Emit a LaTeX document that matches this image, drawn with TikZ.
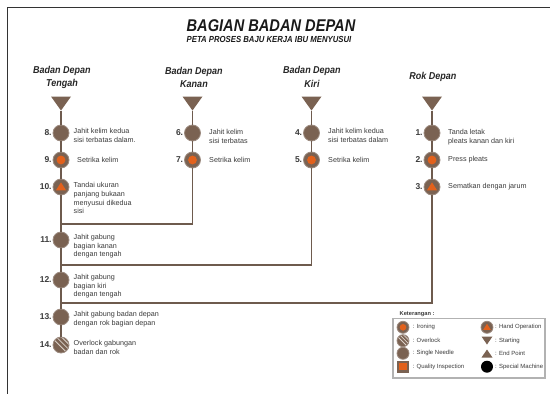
\documentclass[tikz,border=0pt]{standalone}
\usepackage{fontspec}
\setmainfont{Liberation Sans}
\usetikzlibrary{calc}
\definecolor{brn}{HTML}{7A6252}
\definecolor{brnl}{HTML}{9C8B80}
\definecolor{lnc}{HTML}{6E5B4E}
\definecolor{org}{HTML}{E2611C}
\definecolor{frm}{HTML}{333333}
\definecolor{txc}{HTML}{3A3A3A}
\definecolor{stp}{HTML}{DCD2CA}
\begin{document}
\begin{tikzpicture}[x=1pt,y=-1pt,
  base/.style={circle, fill=brn, draw=brnl, line width=0.8pt, minimum size={2*#1}, inner sep=0pt},
  base/.default=8,
  needle/.style={base=#1}, needle/.default=8,
  ironing/.style={base=#1, path picture={\fill[org] (path picture bounding box.center) circle[radius={0.55*#1}];}},
  ironing/.default=8,
  handop/.style={base=#1, path picture={\fill[org] ([shift={({-0.64*#1},{0.42*#1})}]path picture bounding box.center) -- ++({1.28*#1},0) -- ++({-0.64*#1},{-1.0*#1}) -- cycle;}},
  handop/.default=8,
  overlock/.style={base=#1, path picture={\foreach \d in {-0.15,0.3,0.75}{\draw[stp, line width=0.8pt] ([shift={({(0.707*\d-1)*#1},{(-0.707*\d-1)*#1})}]path picture bounding box.center) -- ++({2*#1},{2*#1});}}},
  overlock/.default=8,
  quality/.style={rectangle, fill=brn, minimum size={2*#1}, inner sep=0pt, path picture={\fill[org] ([shift={({-0.62*#1},{-0.62*#1})}]path picture bounding box.center) rectangle ++({1.24*#1},{1.24*#1});}},
  special/.style={circle, fill=black, minimum size={2*#1}, inner sep=0pt},
  conn/.style={draw=lnc, line width=1.4pt},
  numlab/.style={font=\bfseries\fontsize{8.5}{9}\selectfont, text=txc, inner sep=0pt},
  txt/.style={font=\fontsize{7.2}{8.6}\selectfont, text=txc, align=left, inner sep=0pt, anchor=north west},
  txt1/.style={font=\fontsize{7.2}{8.6}\selectfont, text=txc, inner sep=0pt, anchor=west},
  hdr/.style={font=\bfseries\itshape\fontsize{10}{13.5}\selectfont, text=black!85, align=center, inner sep=0pt},
  lgt/.style={font=\fontsize{6}{7}\selectfont, text=txc, inner sep=0pt, anchor=west}
]
\useasboundingbox (0,0) rectangle (550,394);
\draw[frm, line width=1pt] (7,394) -- (7,7) -- (550,7);

% titles
\node[font=\bfseries\itshape\fontsize{17}{20}\selectfont, text=black!90, inner sep=0pt] (title) at (271,26) {\scalebox{0.86}[1]{BAGIAN BADAN DEPAN}};
\node[font=\bfseries\itshape\fontsize{8.8}{10}\selectfont, text=black!90, inner sep=0pt] (subtitle) at (269,39.2) {\scalebox{0.88}[1]{PETA PROSES BAJU KERJA IBU MENYUSUI}};

% column headers
\node[hdr] (h1) at (62,77.5) {\scalebox{0.9}[1]{Badan Depan}\\\scalebox{0.9}[1]{Tengah}};
\node[hdr] (h2) at (194,77.5) {\scalebox{0.9}[1]{Badan Depan}\\\scalebox{0.9}[1]{Kanan}};
\node[hdr] (h3) at (312,77) {\scalebox{0.9}[1]{Badan Depan}\\\scalebox{0.9}[1]{Kiri}};
\node[hdr] (h4) at (433,76.5) {\scalebox{0.9}[1]{Rok Depan}};

% starting triangles
\coordinate (s1) at (61,110.5);
\coordinate (s2) at (192.5,110.5);
\coordinate (s3) at (311.5,110.5);
\coordinate (s4) at (432,110.5);
\foreach \s in {s1,s2,s3,s4}{\fill[brn] (\s) -- ++(-10,-14) -- ++(20,0) -- cycle;}

% Tengah column
\node[needle,   label={[numlab,label distance=0.8pt]left:8.}]  (c8)  at (61,133) {};
\node[ironing,  label={[numlab,label distance=0.8pt]left:9.}]  (c9)  at (61,160) {};
\node[handop,   label={[numlab,label distance=0.8pt]left:10.}] (c10) at (61,187) {};
\node[needle,   label={[numlab,label distance=0.8pt]left:11.}] (c11) at (61,240) {};
\node[needle,   label={[numlab,label distance=0.8pt]left:12.}] (c12) at (61,280) {};
\node[needle,   label={[numlab,label distance=0.8pt]left:13.}] (c13) at (61,317) {};
\node[overlock, label={[numlab,label distance=0.8pt]left:14.}] (c14) at (61,345) {};

% Kanan column
\node[needle,  label={[numlab,label distance=0.8pt]left:6.}] (c6) at (192.5,133) {};
\node[ironing, label={[numlab,label distance=0.8pt]left:7.}] (c7) at (192.5,160) {};
% Kiri column
\node[needle,  label={[numlab,label distance=0.8pt]left:4.}] (c4) at (311.5,133) {};
\node[ironing, label={[numlab,label distance=0.8pt]left:5.}] (c5) at (311.5,160) {};
% Rok column
\node[needle,  label={[numlab,label distance=0.8pt]left:1.}] (c1) at (432,133) {};
\node[ironing, label={[numlab,label distance=0.8pt]left:2.}] (c2) at (432,160) {};
\node[handop,  label={[numlab,label distance=0.8pt]left:3.}] (c3) at (432,187) {};

% junctions
\coordinate (j1) at (61,224);
\coordinate (j2) at (61,265);
\coordinate (j3) at (61,303);

% connectors
\draw[conn] (s1) -- (c8) -- (c9) -- (c10) -- (c11) -- (c12) -- (c13) -- (c14);
\draw[conn] (s2) -- (c6) -- (c7);
\draw[conn] (c7) |- (j1);
\draw[conn] (s3) -- (c4) -- (c5);
\draw[conn] (c5) |- (j2);
\draw[conn] (s4) -- (c1) -- (c2) -- (c3);
\draw[conn] (c3) |- (j3);

% texts
\node[txt] (t8)  at ($(c8)+(12.5,-5)$)  {Jahit kelim kedua\\sisi terbatas dalam.};
\node[txt1] (t9) at ($(c9)+(16,0)$)     {Setrika kelim};
\node[txt] (t10) at ($(c10)+(12.5,-4.5)$) {Tandai ukuran\\panjang bukaan\\menyusui dikedua\\sisi};
\node[txt] (t11) at ($(c11)+(12.5,-6)$) {Jahit gabung\\bagian kanan\\dengan tengah};
\node[txt] (t12) at ($(c12)+(12.5,-6)$) {Jahit gabung\\bagian kiri\\dengan tengah};
\node[txt] (t13) at ($(c13)+(12.5,-6)$) {Jahit gabung badan depan\\dengan rok bagian depan};
\node[txt] (t14) at ($(c14)+(12.5,-5)$) {Overlock gabungan\\badan dan rok};
\node[txt] (t6)  at ($(c6)+(16.5,-3.5)$) {Jahit kelim\\sisi terbatas};
\node[txt1] (t7) at ($(c7)+(16.5,0)$)   {Setrika kelim};
\node[txt] (t4)  at ($(c4)+(16.5,-4.5)$) {Jahit kelim kedua\\sisi terbatas dalam};
\node[txt1] (t5) at ($(c5)+(16.5,0)$)   {Setrika kelim};
\node[txt] (t1)  at ($(c1)+(16,-3.5)$)  {Tanda letak\\pleats kanan dan kiri};
\node[txt1] (t2) at ($(c2)+(16,0)$)     {Press pleats};
\node[txt1] (t3) at ($(c3)+(16,0)$)     {Sematkan dengan jarum};

% legend
\node[font=\bfseries\fontsize{5.7}{7}\selectfont, text=txc, inner sep=0pt, anchor=west] (ket) at (399.5,314) {Keterangan :};
\draw[gray!60, line width=1.2pt] (393,318.5) rectangle (545,378);
\node[ironing=6]  (l1) at (403,327.3) {};
\node[lgt] (lt1) at (412.5,327.3) {: Ironing};
\node[overlock=6] (l2) at (403,340.7) {};
\node[lgt] (lt2) at (412.5,340.7) {: Overlock};
\node[needle=6]   (l3) at (403,353.3) {};
\node[lgt] (lt3) at (412.5,353.3) {: Single Needle};
\node[quality=6]  (l4) at (403,366.7) {};
\node[lgt] (lt4) at (412.5,366.7) {: Quality Inspection};
\node[handop=6]   (l5) at (487,327.3) {};
\node[lgt] (lt5) at (495,327.3) {: Hand Operation};
\coordinate (l6) at (487,344.5);
\fill[brn] (l6) -- ++(-5.5,-8) -- ++(11,0) -- cycle;
\node[lgt] (lt6) at (495,340.7) {: Starting};
\coordinate (l7) at (487,349.5);
\fill[brn] (l7) -- ++(-5.5,8) -- ++(11,0) -- cycle;
\node[lgt] (lt7) at (495,353.3) {: End Point};
\node[special=6]  (l8) at (487,366.7) {};
\node[lgt] (lt8) at (495,366.7) {: Special Machine};
\end{tikzpicture}
\end{document}
